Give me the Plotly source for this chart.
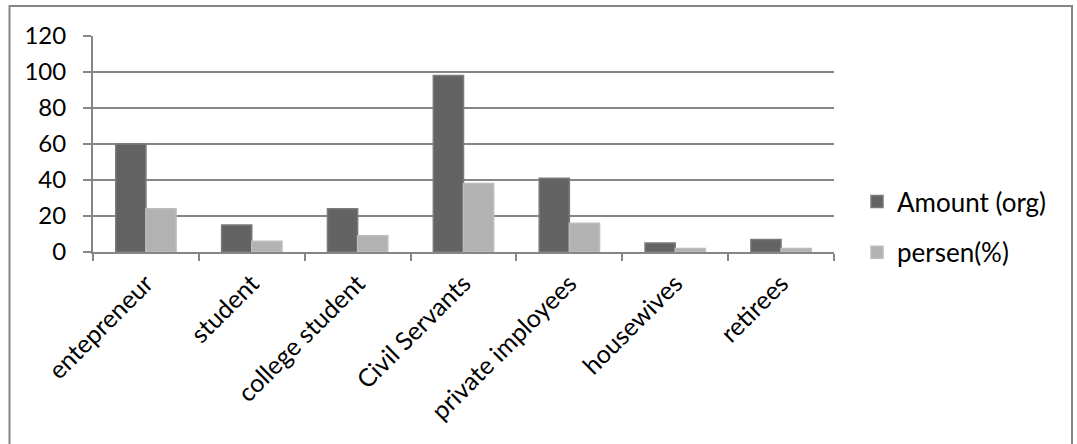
import plotly.graph_objects as go

categories = ["entepreneur", "student", "college student", "Civil Servants",
              "private imployees", "housewives", "retirees"]
amount_org = [60, 15, 24, 98, 41, 5, 7]
persen_pct = [24, 6, 9, 38, 16, 2, 2]
y_ticks = [0, 20, 40, 60, 80, 100, 120]

FONT = "Lato"
GRID = "#868686"

fig = go.Figure()
fig.add_trace(go.Bar(
    x=categories, y=amount_org, name="Amount (org)",
    marker=dict(color="#636363", line=dict(color="#7a7a7a", width=1.5)),
    legendgroup="a",
))
fig.add_trace(go.Bar(
    x=categories, y=persen_pct, name="persen(%)",
    marker=dict(color="#b2b2b2", line=dict(color="#bdbdbd", width=1.5)),
    legendgroup="b",
))

W, H = 1077, 444
L, R, T, B = 93, 243, 36, 192
pw, ph = W - L - R, H - T - B

def px_x(p):
    return (p - L) / pw

def px_y(p):
    return (H - B - p) / ph

fig.update_layout(
    width=W, height=H,
    margin=dict(l=L, r=R, t=T, b=B),
    paper_bgcolor="white", plot_bgcolor="white",
    barmode="group", bargap=0.43, bargroupgap=0,
    font=dict(family=FONT, size=24, color="black"),
    showlegend=True,
    legend=dict(
        x=px_x(857), y=px_y(178), xanchor="left", yanchor="top",
        traceorder="grouped", tracegroupgap=14,
        itemwidth=30, font=dict(family=FONT, size=26, color="black"),
        bgcolor="rgba(0,0,0,0)",
    ),
    xaxis=dict(
        type="category", tickson="boundaries", ticks="outside",
        ticklen=7, tickwidth=1.5, tickcolor=GRID,
        showline=True, linecolor=GRID, linewidth=2,
        tickangle=-45, showgrid=False,
        tickfont=dict(family=FONT, size=25, color="black"),
        ticklabelstandoff=5,
    ),
    yaxis=dict(
        range=[0, 120], tickvals=y_ticks, ticks="outside",
        ticklen=8, tickwidth=1.5, tickcolor=GRID,
        showline=True, linecolor=GRID, linewidth=2,
        showgrid=True, gridcolor=GRID, gridwidth=1.5,
        zeroline=False,
        tickfont=dict(family=FONT, size=24, color="black"),
        ticklabelstandoff=12,
    ),
    shapes=[dict(
        type="rect", xref="paper", yref="paper",
        x0=px_x(9.5), x1=px_x(1072), y0=px_y(460), y1=px_y(6),
        line=dict(color="#868686", width=2), fillcolor="rgba(0,0,0,0)",
        layer="below",
    )],
)

fig.write_html("out.html")
